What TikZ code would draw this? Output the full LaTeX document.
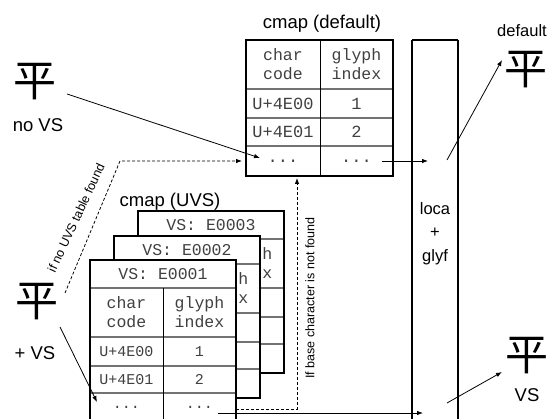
\documentclass[tikz,border=0pt]{standalone}
\usepackage{fontspec}
\setmainfont{Liberation Sans}
\setmonofont{Liberation Mono}
\newfontfamily\cjk{Noto Sans CJK JP}
\usetikzlibrary{arrows.meta}
\tikzset{
  outer/.style={line width=2.4pt},
  rowline/.style={line width=1.2pt, draw=black!55},
  colline/.style={line width=0.9pt},
  hdr/.style={font=\ttfamily\fontsize{16.5}{19}\selectfont, align=center, text=black!75, inner sep=0},
  cell/.style={font=\ttfamily\fontsize{15}{16}\selectfont, text=black!75, inner sep=0},
  dcell/.style={font=\ttfamily\fontsize{17}{18}\selectfont, text=black!75, inner sep=0},
  lbl/.style={font=\fontsize{18.5}{20}\selectfont, inner sep=0, anchor=base},
  sml/.style={font=\fontsize{16.5}{18}\selectfont, inner sep=0, anchor=base},
  note/.style={font=\fontsize{12.5}{14}\selectfont, inner sep=0},
  glyph/.style={font=\cjk\fontsize{43}{43}\selectfont, inner sep=0},
  arr/.style={-{Latex[length=6pt,width=4.5pt]}, line width=0.8pt},
  darr/.style={arr, dash pattern=on 3pt off 2pt},
}
% frame of one UVS table
\newcommand\uvsframe[1]{%
    \fill[white] (0,0) rectangle (146,162);
    \draw[rowline] (0,28) -- (146,28) (0,77) -- (146,77) (0,106) -- (146,106) (0,133) -- (146,133);
    \draw[colline] (73,28) -- (73,162);
    \draw[outer] (0,0) rectangle (146,162);}
% table partly hidden behind another one
\newcommand\uvsback[3]{%
  \begin{scope}[shift={#2}]
    \uvsframe{}
    \node[hdr] (#1vs) at (73,14) {VS: #3};
    \node[hdr, align=right, anchor=east] (#1gi) at (134.4,52.5) {ph\\ex};
  \end{scope}}
% front table
\newcommand\uvsfront[3]{%
  \begin{scope}[shift={#2}]
    \uvsframe{}
    \node[hdr] (#1vs) at (73,14) {VS: #3};
    \node[hdr] (#1cc) at (36.5,52.5) {char\\code};
    \node[hdr] (#1gi) at (109.5,52.5) {glyph\\index};
    \node[cell] (#1ra) at (36.5,91.5) {U+4E00};
    \node[cell] (#1rb) at (109.5,91.5) {1};
    \node[cell] (#1sa) at (36.5,119.5) {U+4E01};
    \node[cell] (#1sb) at (109.5,119.5) {2};
    \node[cell] (#1ta) at (36.5,147.5) {...};
    \node[cell] (#1tb) at (109.5,147.5) {...};
  \end{scope}}
\begin{document}
\begin{tikzpicture}[x=1pt,y=-1pt]
\useasboundingbox (0,0) rectangle (558,419);
% default cmap
\node[lbl] (tdef) at (322,29) {cmap (default)};
\begin{scope}[shift={(246,40)}]
  \draw[rowline] (0,49) -- (147,49) (0,78) -- (147,78) (0,106) -- (147,106);
  \draw[colline] (74,0) -- (74,136);
  \draw[outer] (0,0) rectangle (147,136);
  \node[hdr] (dcc) at (37,24.5) {char\\code};
  \node[hdr] (dgi) at (110.5,24.5) {glyph\\index};
  \node[dcell] (dra) at (37,63.5) {U+4E00};
  \node[dcell] (drb) at (110.5,63.5) {1};
  \node[dcell] (dsa) at (37,92) {U+4E01};
  \node[dcell] (dsb) at (110.5,92) {2};
  \node[dcell] (dta) at (37,121) {...};
  \node[dcell] (dtb) at (110.5,121) {...};
\end{scope}
% UVS cmaps
\node[lbl] (tuvs) at (170,207) {cmap (UVS)};
\uvsback{c}{(138,211)}{E0003}
\uvsback{b}{(114,236)}{E0002}
\uvsfront{a}{(90,260)}{E0001}
% loca + glyf
\draw[outer] (412,40) -- (412,470) (458,40) -- (458,470) (412,40) -- (458,40);
\node[sml] (loca) at (435,215) {loca};
\node[sml] (plus) at (435,238) {+};
\node[sml] (glyf) at (435,262) {glyf};
% glyphs
\node[glyph] (g1) at (35,82) {平};
\node[lbl] (novs) at (38,132) {no VS};
\node[glyph] (g2) at (37,302) {平};
\node[lbl] (pvs) at (35,360) {+ VS};
\node[glyph] (g3) at (526,70) {平};
\node[sml] (dflt) at (522,37) {default};
\node[glyph] (g4) at (527,356) {平};
\node[lbl] (vs) at (527,402) {VS};
% coordinates
\coordinate (p1) at (67,94);
\coordinate (p1e) at (260,158);
\coordinate (q1) at (65,293);
\coordinate (q2) at (120,161);
\coordinate (q3) at (242,161);
\coordinate (r1) at (382,161);
\coordinate (r2) at (428,161);
\coordinate (s1) at (447,160);
\coordinate (s2) at (502,60);
\coordinate (u1) at (60,327);
\coordinate (u2) at (97,402);
\coordinate (v1) at (236,409);
\coordinate (v2) at (297,409);
\coordinate (v3) at (297,178);
\coordinate (w1) at (218,413);
\coordinate (w2) at (423,413);
\coordinate (z1) at (447,403);
\coordinate (z2) at (502,372);
% connectors
\draw[arr] (p1) -- (p1e);
\draw[darr] (q1) -- (q2) -- (q3);
\draw[arr] (r1) -- (r2);
\draw[arr] (s1) -- (s2);
\draw[arr] (u1) -- (u2);
\draw[darr] (v1) -- (v2) -- (v3);
\draw[arr] (w1) -- (w2);
\draw[arr] (z1) -- (z2);
% notes
\node[note, rotate=65] (n1) at (76,218) {if no UVS table found};
\node[note, rotate=90] (n2) at (310,298) {If base character is not found};
\end{tikzpicture}
\end{document}
